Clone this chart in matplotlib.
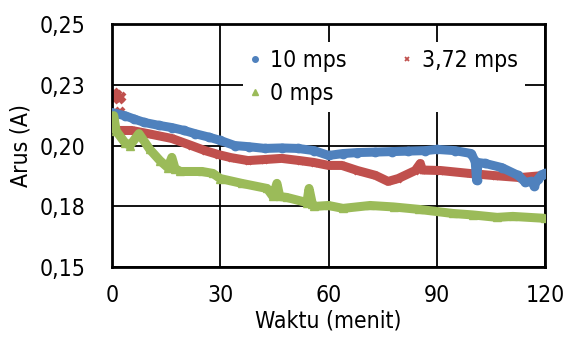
import matplotlib
matplotlib.use("Agg")
import matplotlib.pyplot as plt
from matplotlib.lines import Line2D
from matplotlib.ticker import FixedLocator

# ---- data ----
blue_t = [0, 1.5, 3.6, 6, 9, 13, 16.6, 20, 23, 27, 30, 34, 38, 42.4, 47, 51.5, 56, 60,
          64, 68, 73, 77.6, 82, 86.8, 90, 95, 99.5, 100.6, 101, 101.4, 103.4, 108,
          112.5, 114.5, 116, 117, 118, 119, 120]
blue_v = [0.2136, 0.2130, 0.2123, 0.2110, 0.2095, 0.2083, 0.2074, 0.2062, 0.2049, 0.2034,
          0.2021, 0.2000, 0.1995, 0.1988, 0.1990, 0.1988, 0.1979, 0.1959,
          0.1967, 0.1971, 0.1973, 0.1975, 0.1977, 0.1979, 0.1984, 0.1979, 0.1967, 0.1935,
          0.1856, 0.1930, 0.1926, 0.1909,
          0.1877, 0.1848, 0.1852, 0.1835, 0.1862, 0.1880, 0.1885]

red0_t = [0, 0.5, 1, 1.5, 2, 2.5, 2.2]
red0_v = [0.2205, 0.2215, 0.2195, 0.2210, 0.2190, 0.2200, 0.2140]
red_t = [2.2, 5.5, 10, 16.6, 22, 25.8, 29.4, 33, 37.7, 42, 47, 52, 56, 60, 63.7, 68,
         73, 76.5, 79.3, 84, 85.4, 86, 91, 99, 106, 113, 120]
red_v = [0.2062, 0.2062, 0.2049, 0.2029, 0.2000, 0.1979, 0.1963, 0.1950, 0.1938, 0.1942,
         0.1947, 0.1938, 0.1930, 0.1918, 0.1918, 0.1897,
         0.1877, 0.1852, 0.1864, 0.1897, 0.1926, 0.1899, 0.1897, 0.1885, 0.1876, 0.1868, 0.1877]

green_t = [0, 0.5, 1.2, 3.6, 5, 7.5, 10.5, 13.3, 15.5, 16.6, 17.5, 19, 25, 28, 30, 36, 43,
           44.6, 45.7, 46.5, 48.5, 54, 54.6, 55.5, 56, 60, 64, 71.5, 78, 85, 94.5, 100,
           106.7, 111, 120]
green_v = [0.2074, 0.2123, 0.2060, 0.2012, 0.2000, 0.2049, 0.1984, 0.1938, 0.1909, 0.1951,
           0.1905, 0.1893, 0.1893, 0.1885, 0.1864, 0.1844, 0.1823,
           0.1790, 0.1844, 0.1790, 0.1786, 0.1765, 0.1823, 0.1760, 0.1749, 0.1753, 0.1741,
           0.1753, 0.1747, 0.1737, 0.1720, 0.1714,
           0.1704, 0.1708, 0.1700]

labels = ["10 mps", "3,72 mps", "0 mps"]
x_ticks = [0, 30, 60, 90, 120]
y_ticks = [0.15, 0.175, 0.20, 0.225, 0.25]
y_tick_labels = ["0,15", "0,18", "0,20", "0,23", "0,25"]

BLUE = "#4F81BD"
RED = "#C0504D"
GREEN = "#9BBB59"

plt.rcParams['font.family'] = ['DejaVu Sans']
plt.rcParams['font.stretch'] = 'condensed'
FS = 16.5
fig = plt.figure(figsize=(5.65, 3.4), dpi=100)
ax = fig.add_axes([0.198, 0.215, 0.767, 0.714])

lw = 6.5
ax.plot(blue_t, blue_v, color=BLUE, lw=lw, marker="o", ms=6, solid_capstyle="round", zorder=3)
ax.plot(red_t, red_v, color=RED, lw=lw, marker="x", ms=5, mew=2, solid_capstyle="round", zorder=2)
ax.plot(red0_t, red0_v, color=RED, lw=0, marker="x", ms=6, mew=3, zorder=2)
ax.plot(green_t, green_v, color=GREEN, lw=lw, marker="^", ms=6, solid_capstyle="round", zorder=4)

ax.set_xlim(0, 120)
ax.set_ylim(0.15, 0.25)
ax.xaxis.set_major_locator(FixedLocator(x_ticks))
ax.yaxis.set_major_locator(FixedLocator(y_ticks))
ax.set_yticklabels(y_tick_labels)
ax.grid(True, color="black", lw=1.3)
ax.set_axisbelow(True)
for s in ax.spines.values():
    s.set_linewidth(2)
    s.set_color("black")
ax.tick_params(length=0, labelsize=FS)
ax.tick_params(axis="x", pad=12)
ax.tick_params(axis="y", pad=19)
ax.set_xlabel("Waktu (menit)", fontsize=FS, labelpad=2)
ax.set_ylabel("Arus (A)", fontsize=FS, labelpad=5)

handles = [Line2D([], [], color=BLUE, marker="o", ls="none", ms=4),
           Line2D([], [], color=RED, marker="x", ls="none", ms=3.5, mew=1.3),
           Line2D([], [], color=GREEN, marker="^", ls="none", ms=4.5)]
leg = ax.legend([handles[0], handles[2], handles[1]], [labels[0], labels[2], labels[1]],
                ncol=2, loc="upper left", bbox_to_anchor=(0.275, 0.975), frameon=True,
                fontsize=FS, handlelength=0.5, handletextpad=0.4, labelspacing=0.45,
                columnspacing=2.4, borderpad=0.3, fancybox=False)
leg.get_frame().set_facecolor("white")
leg.get_frame().set_edgecolor("none")
leg.get_frame().set_alpha(1)
leg.set_zorder(5)

fig.savefig("out.png", dpi=100)
